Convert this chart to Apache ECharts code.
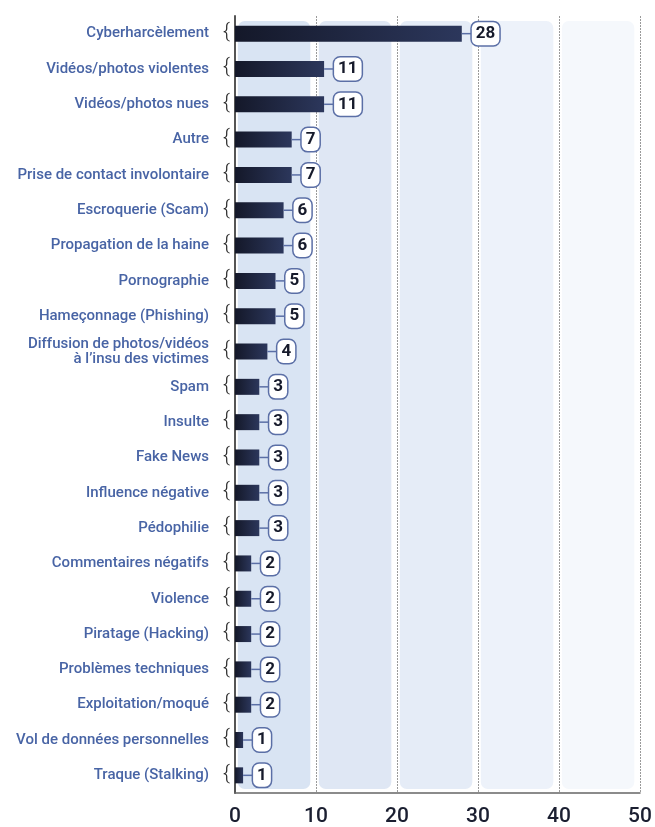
<!DOCTYPE html>
<html>
<head>
<meta charset="utf-8">
<script src="https://cdn.jsdelivr.net/npm/echarts@6/dist/echarts.min.js"></script>
<style>
  html, body { margin: 0; padding: 0; background: #ffffff; }
  #chart { width: 655px; height: 827px; }
</style>
</head>
<body>
<div id="chart"></div>
<script>
// Chart data
const categories = [
  'Cyberharcèlement',
  'Vidéos/photos violentes',
  'Vidéos/photos nues',
  'Autre',
  'Prise de contact involontaire',
  'Escroquerie (Scam)',
  'Propagation de la haine',
  'Pornographie',
  'Hameçonnage (Phishing)',
  'Diffusion de photos/vidéos\nà l’insu des victimes',
  'Spam',
  'Insulte',
  'Fake News',
  'Influence négative',
  'Pédophilie',
  'Commentaires négatifs',
  'Violence',
  'Piratage (Hacking)',
  'Problèmes techniques',
  'Exploitation/moqué',
  'Vol de données personnelles',
  'Traque (Stalking)'
]
const values = [28, 11, 11, 7, 7, 6, 6, 5, 5, 4, 3, 3, 3, 3, 3, 2, 2, 2, 2, 2, 1, 1]
const bandStarts = [0, 10, 20, 30, 40]
const xTicks = [0, 10, 20, 30, 40, 50]

// Colors
const colors = {
  label: '#4864a5',
  barStart: '#141829',
  barEnd: '#2c375c',
  boxBorder: '#5b6fa6',
  number: '#161a2b',
  axis: '#555555',
  bands: ['#d9e4f3', '#dfe7f4', '#e5ecf7', '#edf2fa', '#f5f8fc']
}

const chart = echarts.init(document.getElementById('chart'))

const option = {
  animation: false,
  grid: { left: 235, right: 15, top: 16, bottom: 32, containLabel: false },
  xAxis: {
    type: 'value',
    min: xTicks[0],
    max: xTicks[xTicks.length - 1],
    interval: 10,
    axisLine: { show: true, lineStyle: { color: '#666666', width: 1.5 } },
    axisTick: { show: false },
    axisLabel: {
      margin: 13,
      fontFamily: 'Roboto',
      fontSize: 21,
      fontWeight: 500,
      color: '#1b1f31'
    },
    splitLine: {
      show: true,
      lineStyle: { color: '#9a9a9a', type: [2, 1], width: 1 }
    }
  },
  yAxis: {
    type: 'category',
    data: categories,
    inverse: true,
    axisLine: { show: true, lineStyle: { color: colors.axis, width: 2 } },
    axisTick: { show: false },
    axisLabel: {
      margin: 26,
      fontFamily: 'Roboto',
      fontSize: 15,
      fontWeight: 500,
      lineHeight: 15,
      padding: [0, 0, 7, 0],
      color: colors.label
    }
  },
  series: [
    // background bands
    {
      type: 'custom',
      silent: true,
      z: 0,
      data: bandStarts.map((s, i) => [s, 0, i]),
      encode: { x: 0, y: 1 },
      renderItem: function (params, api) {
        const cs = params.coordSys
        const s = api.value(0)
        const x0 = api.coord([s + 0.35, 0])[0]
        const x1 = api.coord([s + 9.3, 0])[0]
        return {
          type: 'rect',
          shape: { x: x0, y: cs.y + 5, width: x1 - x0, height: cs.height - 9, r: 7 },
          style: { fill: colors.bands[api.value(2)] }
        }
      }
    },
    {
      type: 'bar',
      data: values,
      barWidth: 16,
      z: 3,
      itemStyle: {
        color: new echarts.graphic.LinearGradient(0, 0, 1, 0, [
          { offset: 0, color: colors.barStart },
          { offset: 1, color: colors.barEnd }
        ])
      }
    },
    // connector + boxed value
    {
      type: 'custom',
      z: 4,
      data: values.map((v, i) => [v, i]),
      encode: { x: 0, y: 1 },
      renderItem: function (params, api) {
        const p = api.coord([api.value(0), api.value(1)])
        return {
          type: 'group',
          children: [
            {
              type: 'line',
              shape: { x1: p[0], y1: p[1], x2: p[0] + 10, y2: p[1] },
              style: { stroke: colors.boxBorder, lineWidth: 1.5 }
            },
            {
              type: 'text',
              x: p[0] + 10,
              y: p[1],
              style: {
                text: String(api.value(0)),
                font: 'bold 17px Roboto',
                fill: colors.number,
                align: 'left',
                verticalAlign: 'middle',
                backgroundColor: '#ffffff',
                borderColor: colors.boxBorder,
                borderWidth: 1.5,
                borderRadius: 6,
                padding: [3, 4, 3, 4]
              }
            }
          ]
        }
      }
    },
    // braces before the axis
    {
      type: 'custom',
      silent: true,
      z: 4,
      data: values.map((v, i) => [0, i]),
      encode: { x: 0, y: 1 },
      renderItem: function (params, api) {
        const p = api.coord([0, api.value(1)])
        return {
          type: 'text',
          x: p[0] - 5,
          y: p[1] - 1,
          style: {
            text: '{',
            font: '300 21px Roboto',
            fill: '#2a2a2a',
            align: 'right',
            verticalAlign: 'middle'
          }
        }
      }
    }
  ]
}

chart.setOption(option)
</script>
</body>
</html>
